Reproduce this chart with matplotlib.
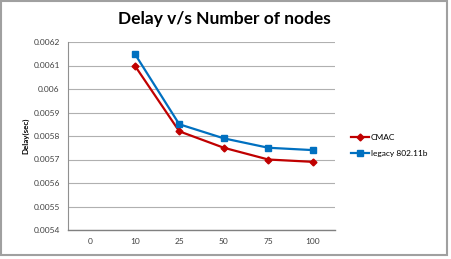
import numpy as np
import matplotlib.pyplot as plt
from matplotlib.patches import Rectangle

plt.rcParams['font.family'] = ['Lato', 'DejaVu Sans']

nodes = ['0', '10', '25', '50', '75', '100']
cmac = [np.nan, 0.0061, 0.00582, 0.00575, 0.00570, 0.00569]
legacy = [np.nan, 0.00615, 0.00585, 0.00579, 0.00575, 0.00574]

fig = plt.figure(figsize=(4.51, 2.59), dpi=100)
ax = fig.add_axes([68 / 451, 1 - 230 / 259, 267 / 451, 188 / 259])

x = np.arange(len(nodes))
ax.plot(x, cmac, color='#c00000', lw=1.6, marker='D', ms=3.5, label='CMAC')
ax.plot(x, legacy, color='#0070c0', lw=1.6, marker='s', ms=5, label='legacy 802.11b')

ax.set_xlim(-0.5, len(nodes) - 0.5)
ax.set_xticks(x)
ax.set_xticklabels(nodes)
ax.set_ylim(0.0054, 0.0062)
yt = np.arange(0.0054, 0.00621, 0.0001)
ax.set_yticks(yt)
ax.set_yticklabels(['%g' % round(v, 4) for v in yt])
ax.tick_params(length=0, labelsize=6, labelcolor='#404040', pad=6)
ax.grid(axis='y', color='#b0b0b0', lw=0.8)
ax.set_axisbelow(True)
for s in ['top', 'right']:
    ax.spines[s].set_visible(False)
ax.spines['left'].set_color('#909090')
ax.spines['bottom'].set_color('#808080')
ax.spines['bottom'].set_linewidth(1.0)
ax.set_ylabel('Delay(sec)', fontsize=5.8, fontweight='bold', labelpad=3)

fig.text(0.498, 1 - 19 / 259, 'Delay v/s Number of nodes', ha='center', va='center',
         fontsize=12.5, fontweight='bold')
ax.legend(loc='center left', bbox_to_anchor=(1.03, 0.45), frameon=False,
          fontsize=6, handlelength=2.2, labelspacing=1.0, handletextpad=0.2)

fig.patches.append(Rectangle((1 / 451, 4 / 259), 446 / 451, 254 / 259, transform=fig.transFigure,
                             fill=False, edgecolor='#a0a0a0', lw=1.5))
fig.savefig('out.png', dpi=100)
